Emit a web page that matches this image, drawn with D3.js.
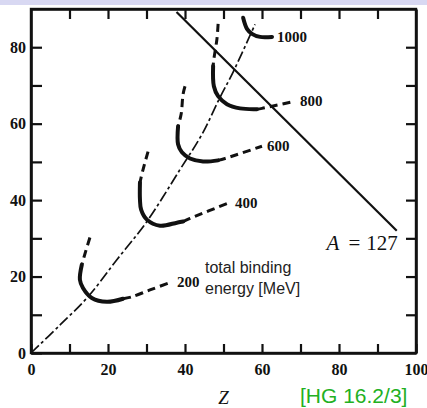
<!DOCTYPE html>
<html>
<head>
<meta charset="utf-8">
<script src="https://cdn.jsdelivr.net/npm/d3@7"></script>
<style>
body { margin: 0; background: #fff; }
svg { display: block; }
</style>
</head>
<body>
<svg id="chart" width="427" height="408"></svg>
<script>
// axis ticks
var zTicks = [0, 10, 20, 30, 40, 50, 60, 70, 80, 90, 100];
var nTicks = [0, 10, 20, 30, 40, 50, 60, 70, 80];
var zTopTicks = [10, 20, 30, 40, 50, 60, 70, 80, 90];
var nRightTicks = [10, 20, 30, 40, 50, 60, 70, 80];

// contour lines of total binding energy, [Z, N]
var c200Upper = [[15.3, 30.2], [14.2, 26.6], [13.2, 23.1]];
var c200Solid = [[13.2, 23.1], [12.7, 19.2], [13.5, 17.0], [15.8, 14.4], [19.7, 13.4], [23.9, 14.2]];
var c200Lower = [[23.9, 14.2], [26.2, 14.7], [30.9, 16.5], [36.6, 18.6]];

var c400Upper = [[30.4, 52.7], [29.1, 48.0], [28.3, 44.6]];
var c400Solid = [[28.3, 44.6], [28.3, 40.2], [28.6, 37.5], [30.1, 34.9], [33.5, 33.3], [37.9, 34.1], [39.5, 34.4]];
var c400Lower = [[39.5, 34.4], [41.3, 35.2], [51.7, 39.4]];

var c600Upper = [[40.0, 69.8], [39.5, 67.7], [39.0, 62.5], [38.2, 59.3]];
var c600Solid = [[38.2, 59.3], [38.2, 54.6], [39.2, 52.5], [41.3, 50.9], [44.7, 50.1], [48.6, 50.4]];
var c600Lower = [[48.6, 50.4], [50.4, 50.9], [60.0, 54.1]];

var c800Upper = [[48.6, 86.1], [48.3, 82.2], [47.5, 76.9], [47.3, 75.1]];
var c800Solid = [[47.3, 75.1], [47.5, 69.8], [48.6, 67.2], [50.9, 65.1], [54.3, 64.0], [58.7, 63.8]];
var c800Lower = [[58.7, 63.8], [60.0, 64.0], [68.6, 65.9]];

var c1000Upper = [];
var c1000Solid = [[55.1, 87.7], [56.1, 84.8], [57.4, 83.5], [59.5, 82.7], [62.6, 82.7]];
var c1000Lower = [];

var energies = [200, 400, 600, 800, 1000];

// line of stability (dash-dot)
var stability = [[0, 0], [7.5, 7.3], [14.8, 14.7], [22.3, 24.4], [30.1, 34.4], [38.7, 48.0],
                 [44.4, 57.2], [49.1, 66.9], [52.5, 73.5], [58.2, 86.0]];

// isobar A = 127 : N = A - Z
var massA = 127;
var isobarZ = [37.8, 95];

var svg = d3.select("#chart");

// header band
svg.append("rect").attr("x", 0).attr("y", 0).attr("width", 427).attr("height", 5).attr("fill", "#d8d8f2");

var x = d3.scaleLinear().domain([0, 100]).range([31, 416]);
var y = d3.scaleLinear().domain([0, 90]).range([353, 9]);

var serif = "'Liberation Serif', 'Times New Roman', serif";

function label20(d) { return d % 20 === 0 ? d : ""; }

var gBottom = svg.append("g").attr("transform", "translate(0,353)")
  .call(d3.axisBottom(x).tickValues(zTicks).tickFormat(label20).tickSizeInner(-9).tickSizeOuter(0).tickPadding(11));
var gLeft = svg.append("g").attr("transform", "translate(31,0)")
  .call(d3.axisLeft(y).tickValues(nTicks).tickFormat(label20).tickSizeInner(-11).tickSizeOuter(0).tickPadding(5));
var gTop = svg.append("g").attr("transform", "translate(0,9)")
  .call(d3.axisTop(x).tickValues(zTopTicks).tickFormat("").tickSizeInner(-10).tickSizeOuter(0));
var gRight = svg.append("g").attr("transform", "translate(416,0)")
  .call(d3.axisRight(y).tickValues(nRightTicks).tickFormat("").tickSizeInner(-10).tickSizeOuter(0));

[gBottom, gLeft, gTop, gRight].forEach(function (g) {
  g.select(".domain").attr("stroke", "#111").attr("stroke-width", 2.6);
  g.selectAll(".tick line").attr("stroke", "#111").attr("stroke-width", 2.2);
  g.selectAll(".tick text").attr("fill", "#111").style("font-family", serif)
    .style("font-size", "16px").style("font-weight", "bold");
});

// frame
svg.append("rect").attr("x", x(0)).attr("y", y(90)).attr("width", x(100) - x(0)).attr("height", y(0) - y(90))
  .attr("fill", "none").attr("stroke", "#111").attr("stroke-width", 2.4);

var line = d3.line().x(function (d) { return x(d[0]); }).y(function (d) { return y(d[1]); });
var smooth = d3.line().x(function (d) { return x(d[0]); }).y(function (d) { return y(d[1]); })
  .curve(d3.curveCatmullRom.alpha(0.5));

// stability line
svg.append("path").datum(stability).attr("d", smooth)
  .attr("fill", "none").attr("stroke", "#111").attr("stroke-width", 1.7)
  .attr("stroke-dasharray", "11,3,3,3");

// A = 127 line
svg.append("path").datum(isobarZ.map(function (z) { return [z, massA - z]; })).attr("d", line)
  .attr("fill", "none").attr("stroke", "#111").attr("stroke-width", 2.2);

svg.append("text").attr("x", x(isobarZ[1]) + 1).attr("y", y(massA - isobarZ[1]) + 19)
  .attr("text-anchor", "end").style("font-family", serif).style("font-size", "21px").attr("fill", "#111")
  .call(function (t) {
    t.append("tspan").style("font-style", "italic").text("A");
    t.append("tspan").attr("dx", 9).text("=");
    t.append("tspan").attr("dx", 6).text("127");
  });

// contours
var contours = [
  { e: energies[0], upper: c200Upper, solid: c200Solid, lower: c200Lower },
  { e: energies[1], upper: c400Upper, solid: c400Solid, lower: c400Lower },
  { e: energies[2], upper: c600Upper, solid: c600Solid, lower: c600Lower },
  { e: energies[3], upper: c800Upper, solid: c800Solid, lower: c800Lower },
  { e: energies[4], upper: c1000Upper, solid: c1000Solid, lower: c1000Lower }
];

contours.forEach(function (c) {
  [c.upper, c.lower].forEach(function (seg) {
    if (!seg.length) return;
    svg.append("path").datum(seg).attr("d", smooth)
      .attr("fill", "none").attr("stroke", "#111").attr("stroke-width", 3)
      .attr("stroke-dasharray", "8,5");
  });
  svg.append("path").datum(c.solid).attr("d", smooth)
    .attr("fill", "none").attr("stroke", "#111").attr("stroke-width", 4).attr("stroke-linecap", "round");

  var end = c.lower.length ? c.lower[c.lower.length - 1] : c.solid[c.solid.length - 1];
  svg.append("text").attr("x", x(end[0]) + 5).attr("y", y(end[1])).attr("dy", "0.35em")
    .style("font-family", serif).style("font-size", "15px").style("font-weight", "bold").attr("fill", "#111")
    .text(c.e);
});

// annotation
var note = svg.append("text").style("font-family", "'Liberation Sans', Arial, sans-serif")
  .style("font-size", "16px").attr("fill", "#222");
note.append("tspan").attr("x", 205).attr("y", 273).text("total binding");
note.append("tspan").attr("x", 205).attr("y", 294).text("energy [MeV]");

// axis title
svg.append("text").attr("x", x(50)).attr("y", 404).attr("text-anchor", "middle")
  .style("font-family", serif).style("font-size", "19px").style("font-style", "italic").attr("fill", "#111")
  .text("Z");

// source
svg.append("text").attr("x", 300).attr("y", 403)
  .style("font-family", "'Liberation Sans', Arial, sans-serif").style("font-size", "21px").attr("fill", "#22b022")
  .text("[HG 16.2/3]");
</script>
</body>
</html>
